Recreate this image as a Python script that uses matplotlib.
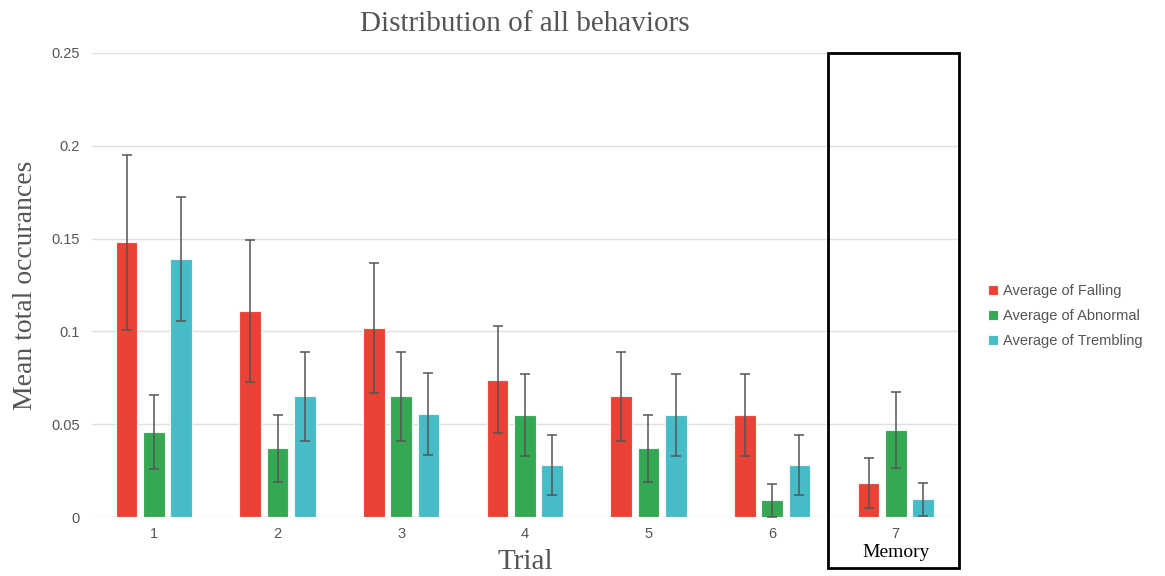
import numpy as np
import matplotlib
matplotlib.use("Agg")
import matplotlib.pyplot as plt
from matplotlib.patches import Rectangle
import matplotlib.transforms as mtransforms

trials = ['1', '2', '3', '4', '5', '6', '7']
series = ['Average of Falling', 'Average of Abnormal', 'Average of Trembling']
falling = [0.148, 0.111, 0.102, 0.074, 0.065, 0.055, 0.0185]
abnormal = [0.046, 0.037, 0.065, 0.055, 0.037, 0.009, 0.047]
trembling = [0.139, 0.065, 0.0555, 0.028, 0.055, 0.028, 0.0095]
falling_err = [0.047, 0.038, 0.035, 0.029, 0.024, 0.022, 0.0135]
abnormal_err = [0.020, 0.018, 0.024, 0.022, 0.018, 0.009, 0.0205]
trembling_err = [0.0335, 0.024, 0.022, 0.016, 0.022, 0.016, 0.009]
colors = ['#EA4335', '#34A853', '#46BDC6']

fig = plt.figure(figsize=(11.65, 5.76), dpi=100)
ax = fig.add_axes([0.079, 0.1024, 0.743, 0.8056])

x = np.arange(len(trials))
w = 0.175
step = 0.22
vals = [falling, abnormal, trembling]
errs = [falling_err, abnormal_err, trembling_err]
for i, (v, e, c, lab) in enumerate(zip(vals, errs, colors, series)):
    ax.bar(x + (i - 1) * step, v, width=w, color=c, edgecolor='#f4f4f4',
           linewidth=0.8, label=lab, zorder=2,
           yerr=e, error_kw=dict(ecolor='#555555', elinewidth=1.1, capsize=3.5, capthick=1.1, zorder=3))

ax.set_xlim(-0.5, 6.5)
ax.set_ylim(0, 0.25)
ax.set_yticks([0, 0.05, 0.1, 0.15, 0.2, 0.25])
ax.set_yticklabels(['0', '0.05', '0.1', '0.15', '0.2', '0.25'])
ax.set_xticks(x)
ax.set_xticklabels(trials)
ax.tick_params(length=0, labelsize=10.5, labelcolor='#555555')
ax.tick_params(axis='y', pad=9)
ax.tick_params(axis='x', pad=7)
for lbl in ax.get_xticklabels() + ax.get_yticklabels():
    lbl.set_family('Liberation Sans')
ax.grid(axis='y', color='#e0e0e0', linewidth=1, zorder=0)
ax.set_axisbelow(True)
for s in ax.spines.values():
    s.set_visible(False)

ax.set_title('Distribution of all behaviors', family='Liberation Serif',
             fontsize=21, color='#555555', pad=16)
ax.set_ylabel('Mean total occurances', family='Liberation Serif', fontsize=20,
              color='#555555', labelpad=9)
ax.set_xlabel('Trial', family='Liberation Serif', fontsize=21,
              color='#555555', labelpad=6)

# box around the memory trial
trans = mtransforms.blended_transform_factory(ax.transData, ax.transAxes)
ax.add_patch(Rectangle((5.45, -0.11), 1.06, 1.11, transform=trans, fill=False,
                       edgecolor='black', linewidth=2, clip_on=False, zorder=5))
ax.text(6.0, -0.077, 'Memory', transform=trans, ha='center', va='center',
        family='Liberation Serif', fontsize=14, color='black')

leg = ax.legend(loc='center left', bbox_to_anchor=(1.02, 0.433), frameon=False,
                handlelength=0.7, handleheight=0.7, handletextpad=0.3,
                labelspacing=0.75, prop={'family': 'Liberation Sans', 'size': 10.5})
for t in leg.get_texts():
    t.set_color('#555555')

fig.savefig('out.png', dpi=100)
